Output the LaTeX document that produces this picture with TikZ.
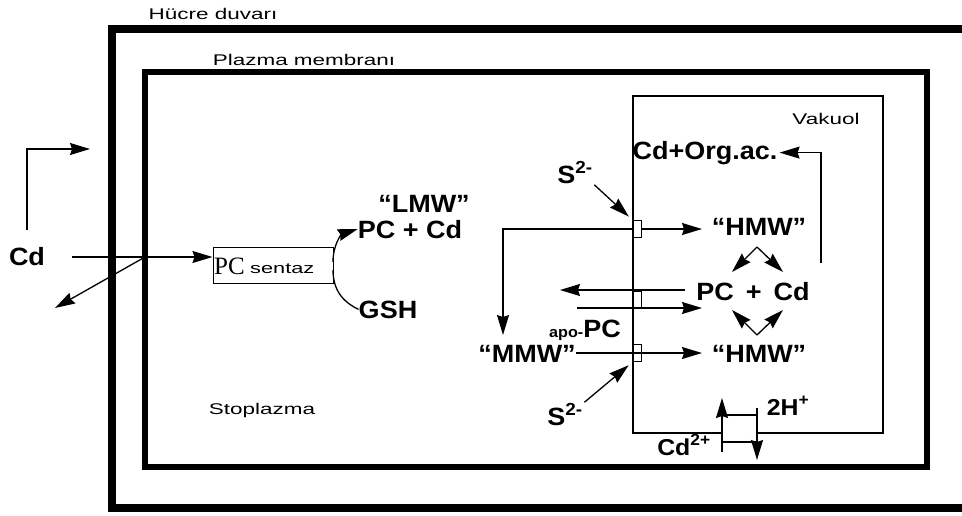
\documentclass[tikz,border=0pt]{standalone}
\usepackage{fontspec}
\setmainfont{Liberation Sans}
\newfontfamily\etiketfont[FakeStretch=1.08]{Liberation Sans}
\newfontfamily\genisfont[FakeStretch=1.45]{Liberation Sans}
\newfontfamily\pcfont{Liberation Serif}
\usetikzlibrary{arrows.meta}
\tikzset{
  etiket/.style={font=\etiketfont\fontsize{25}{27}\selectfont\bfseries, inner sep=0pt, anchor=base},
  kucuk/.style={font=\etiketfont\fontsize{23}{25}\selectfont\bfseries, inner sep=0pt, anchor=base},
  bolge/.style={font=\genisfont\fontsize{15.5}{18}\selectfont, inner sep=0pt, anchor=base},
  ok/.style={line width=1.3pt, -{Stealth[length=20pt,width=12pt,inset=2pt]}},
  pompa/.style={draw, fill=white, line width=1pt, minimum width=8pt, minimum height=17pt, inner sep=0pt},
}
\begin{document}
\begin{tikzpicture}[x=1pt,y=-1pt]
  \useasboundingbox (0,0) rectangle (962,515);

  % Hücre duvarı, plazma membranı ve vakuol
  \draw[line width=8.5pt] (962,29) -- (112,29) -- (112,508) -- (962,508);
  \draw[line width=6.5pt] (145,72) rectangle (927,467);
  \draw[line width=2.5pt] (722,433) -- (633,433) -- (633,96) -- (883,96) -- (883,433) -- (757,433);

  % Bölge adları
  \node[bolge] (hucre) at (213,19) {Hücre duvarı};
  \node[bolge] (plazma) at (304,65) {Plazma membranı};
  \node[bolge] (vakuol) at (826,124) {Vakuol};
  \node[bolge] (stoplazma) at (262,414) {Stoplazma};

  % Stoplazmadaki etiketler
  \node[etiket] (cdsol) at (27,265) {Cd};
  \node[draw, line width=1pt, minimum width=120pt, minimum height=36pt, inner sep=0pt] (sentaz) at (273,265) {};
  \node[anchor=base west, inner sep=0pt, font=\pcfont\fontsize{25}{25}\selectfont] (pcyazi) at (214,274) {PC};
  \node[anchor=base west, inner sep=0pt, font=\genisfont\fontsize{15}{15}\selectfont] (sentazyazi) at (250,273) {sentaz};
  \node[etiket] (lmw) at (424,212) {“LMW”};
  \node[etiket] (pccd) at (410,238) {PC + Cd};
  \node[etiket] (gsh) at (388,318) {GSH};
  \node[etiket] (sust) at (575,183) {S\textsuperscript{2-}};
  \node[etiket] (mmw) at (527,362) {“MMW”};
  \node[etiket] (apopc) at (585,337) {{\fontsize{15}{15}\selectfont apo-}PC};
  \node[etiket] (salt) at (565,425) {S\textsuperscript{2-}};

  % Vakuoldeki etiketler
  \node[etiket] (orgac) at (705,159) {Cd+Org.ac.};
  \node[etiket] (hmwust) at (759,235) {“HMW”};
  \node[etiket] (pccdv) at (753,300) {PC\hspace{12pt}+\hspace{12pt}Cd};
  \node[etiket] (hmwalt) at (759,362) {“HMW”};
  \node[kucuk] (ikih) at (788,415) {2H\textsuperscript{+}};
  \node[kucuk] (cdiki) at (684,455) {Cd\textsuperscript{2+}};

  % Membrandaki taşıyıcılar
  \node[pompa] (p1) at (637,229) {};
  \node[pompa] (p2) at (637,300) {};
  \node[pompa] (p3) at (637,353) {};

  % Cd girişi
  \coordinate (cdbas) at (72,257);
  \coordinate (giris) at (145,257);
  \coordinate (cdgeri) at (55,308);
  \coordinate (dikalt) at (27,230);
  \coordinate (diksag) at (90,149);
  \draw[ok] (cdbas) -- (sentaz.west |- cdbas);
  \draw[ok] (giris) -- (cdgeri);
  \draw[ok] (dikalt) |- (diksag);

  % PC sentaz tepkimesi
  \draw[ok] (333,262) .. controls (333,244) and (342,234) .. (pccd.west);
  \draw[line width=1.3pt] (333,270) .. controls (333,292) and (345,303) .. (gsh.west);

  % Vakuol membranından geçişler
  \coordinate (uc) at (702,0);
  \coordinate (mmwust) at (503,335);
  \coordinate (solbas) at (685,290);
  \coordinate (sol) at (560,290);
  \coordinate (sag) at (577,308);
  \draw[ok] (p1.west) -| (mmwust);
  \draw[ok] (p1.east) -- (p1.east -| uc);
  \draw[ok] (solbas) -- (sol);
  \draw[ok] (sag) -- (sag -| uc);
  \draw[ok] (mmw.east |- p3) -- (p3 -| uc);
  \draw[ok, shorten >=5pt, shorten <=2pt] (sust.south east) -- (p1.north west);
  \draw[ok, shorten >=5pt, shorten <=2pt] (salt.north east) -- (p3.south west);

  % HMW <-> PC + Cd
  \coordinate (ustuc) at (757,247);
  \coordinate (altuc) at (757,335);
  \draw[ok] (ustuc) -- (732,272);
  \draw[ok] (ustuc) -- (783,272);
  \draw[ok] (altuc) -- (732,310);
  \draw[ok] (altuc) -- (783,310);

  % Organik asit
  \coordinate (orgalt) at (821,263);
  \draw[ok, shorten >=2pt] (orgalt) |- (orgac.east);

  % Cd2+/2H+ antiport
  \draw[line width=1.3pt] (722,415) -- (757,415) (722,442) -- (757,442);
  \draw[ok] (722,452) -- (722,398);
  \draw[ok] (757,408) -- (757,460);
\end{tikzpicture}
\end{document}
